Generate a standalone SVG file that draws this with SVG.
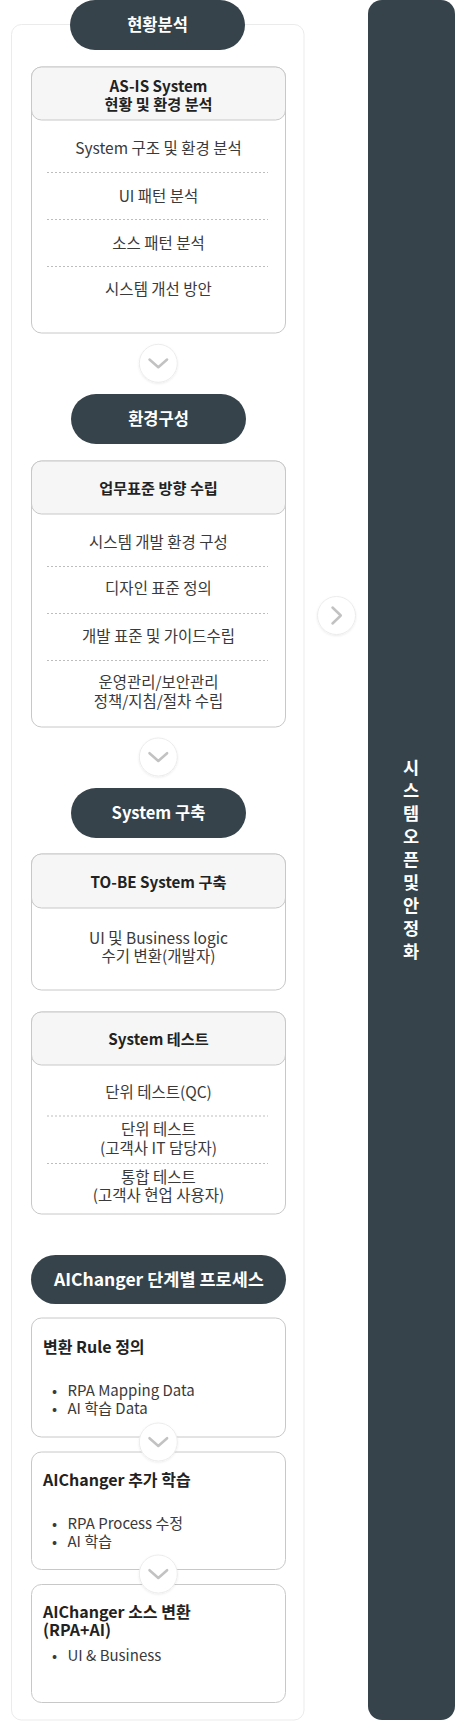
<svg xmlns="http://www.w3.org/2000/svg" width="473" height="1735" viewBox="0 0 473 1735">
<defs>
<style>
text{font-family:"Noto Sans CJK KR","Noto Sans",sans-serif;}
.pill{fill:#36434b;}
.pt{fill:#ffffff;font-size:16.5px;font-weight:700;text-anchor:middle;}
.card{fill:#ffffff;stroke:#c8c8c8;stroke-width:1;}
.hdr{fill:#f6f6f6;stroke:#c8c8c8;stroke-width:1;}
.ht{fill:#222;font-size:15.2px;font-weight:700;text-anchor:middle;}
.it{fill:#3a3a3a;font-size:15.5px;text-anchor:middle;}
.tt{fill:#222;font-size:16px;font-weight:700;}
.bt{fill:#3a3a3a;font-size:15px;}
.dot{stroke:#bdbdbd;stroke-width:1;stroke-dasharray:2 2;}
.circ{fill:#ffffff;stroke:#ececec;stroke-width:1;}
.chev{fill:none;stroke:#c2c2c2;stroke-width:2.5;stroke-linecap:round;stroke-linejoin:round;}
.vt{fill:#ffffff;font-size:17.5px;font-weight:700;letter-spacing:5.5px;}
</style>
<filter id="sh" x="-30%" y="-30%" width="160%" height="160%">
<feDropShadow dx="0" dy="1" stdDeviation="1" flood-color="#000" flood-opacity="0.08"/>
</filter>
</defs>
<rect x="0" y="0" width="473" height="1735" fill="#ffffff"/>

<g id="container">
<rect x="11.5" y="24.5" width="292.5" height="1695.5" rx="10" fill="#ffffff" stroke="#ebebeb" stroke-width="1"/>
</g>

<g id="panel-open">
<rect x="368" y="0" width="87" height="1720" rx="14" fill="#36434b"/>
<text class="vt" x="411" y="759" writing-mode="vertical-rl">시스템오픈및안정화</text>
</g>

<g id="pill-1">
<rect class="pill" x="70" y="0" width="175" height="50" rx="25"/>
<text class="pt" x="157.5" y="31">현황분석</text>
</g>

<g id="card-asis">
<rect class="card" x="31.5" y="67" width="254" height="266" rx="10"/>
<rect class="hdr" x="31.5" y="67" width="254" height="53" rx="10"/>
<text class="ht"><tspan x="158.5" y="91.5">AS-IS System</tspan><tspan x="158.5" y="109.5">현황 및 환경 분석</tspan></text>
<text class="it" x="158.5" y="153.5">System 구조 및 환경 분석</text>
<text class="it" x="158.5" y="201.5">UI 패턴 분석</text>
<text class="it" x="158.5" y="248.5">소스 패턴 분석</text>
<text class="it" x="158.5" y="294.5">시스템 개선 방안</text>
<line class="dot" x1="47" y1="172.5" x2="268" y2="172.5"/>
<line class="dot" x1="47" y1="219.5" x2="268" y2="219.5"/>
<line class="dot" x1="47" y1="266.5" x2="268" y2="266.5"/>
</g>

<g id="pill-2">
<rect class="pill" x="71" y="394" width="175" height="50" rx="25"/>
<text class="pt" x="158.5" y="425">환경구성</text>
</g>

<g id="card-env">
<rect class="card" x="31.5" y="461" width="254" height="266" rx="10"/>
<rect class="hdr" x="31.5" y="461" width="254" height="53" rx="10"/>
<text class="ht" x="158.5" y="493.5">업무표준 방향 수립</text>
<text class="it" x="158.5" y="547.5">시스템 개발 환경 구성</text>
<text class="it" x="158.5" y="593.5">디자인 표준 정의</text>
<text class="it" x="158.5" y="641.5">개발 표준 및 가이드수립</text>
<text class="it"><tspan x="158.5" y="688">운영관리/보안관리</tspan><tspan x="158.5" y="706.5">정책/지침/절차 수립</tspan></text>
<line class="dot" x1="47" y1="566.5" x2="268" y2="566.5"/>
<line class="dot" x1="47" y1="613.5" x2="268" y2="613.5"/>
<line class="dot" x1="47" y1="660.5" x2="268" y2="660.5"/>
</g>

<g id="pill-3">
<rect class="pill" x="71" y="788" width="175" height="50" rx="25"/>
<text class="pt" x="158.5" y="819">System 구축</text>
</g>

<g id="card-tobe">
<rect class="card" x="31.5" y="854" width="254" height="136" rx="10"/>
<rect class="hdr" x="31.5" y="854" width="254" height="54" rx="10"/>
<text class="ht" x="158.5" y="887.5">TO-BE System 구축</text>
<text class="it"><tspan x="158.5" y="943.5">UI 및 Business logic</tspan><tspan x="158.5" y="961.5">수기 변환(개발자)</tspan></text>
</g>

<g id="card-test">
<rect class="card" x="31.5" y="1012" width="254" height="202" rx="10"/>
<rect class="hdr" x="31.5" y="1012" width="254" height="53" rx="10"/>
<text class="ht" x="158.5" y="1044.5">System 테스트</text>
<text class="it" x="158.5" y="1097.5">단위 테스트(QC)</text>
<text class="it"><tspan x="158.5" y="1135">단위 테스트</tspan><tspan x="158.5" y="1154">(고객사 IT 담당자)</tspan></text>
<text class="it"><tspan x="158.5" y="1182.5">통합 테스트</tspan><tspan x="158.5" y="1200.5">(고객사 현업 사용자)</tspan></text>
<line class="dot" x1="47" y1="1116" x2="268" y2="1116"/>
<line class="dot" x1="47" y1="1163.5" x2="268" y2="1163.5"/>
</g>

<g id="pill-4">
<rect class="pill" x="31" y="1255" width="255" height="49" rx="24.5"/>
<text class="pt" x="159" y="1285.5" style="font-size:17.5px">AIChanger 단계별 프로세스</text>
</g>

<g id="card-rule">
<rect class="card" x="31.5" y="1318" width="254" height="119" rx="10"/>
<text class="tt" x="43" y="1352.5">변환 Rule 정의</text>
<text class="bt"><tspan x="52" y="1396">•</tspan><tspan x="67.5" y="1396">RPA Mapping Data</tspan><tspan x="52" y="1414">•</tspan><tspan x="67.5" y="1414">AI 학습 Data</tspan></text>
</g>

<g id="card-learn">
<rect class="card" x="31.5" y="1452" width="254" height="117.5" rx="10"/>
<text class="tt" x="43" y="1485.5">AIChanger 추가 학습</text>
<text class="bt"><tspan x="52" y="1529">•</tspan><tspan x="67.5" y="1529">RPA Process 수정</tspan><tspan x="52" y="1547">•</tspan><tspan x="67.5" y="1547">AI 학습</tspan></text>
</g>

<g id="card-convert">
<rect class="card" x="31.5" y="1584.5" width="254" height="118" rx="10"/>
<text class="tt"><tspan x="43" y="1617.5">AIChanger 소스 변환</tspan><tspan x="43" y="1636">(RPA+AI)</tspan></text>
<text class="bt"><tspan x="52" y="1661">•</tspan><tspan x="67.5" y="1661">UI &amp; Business</tspan></text>
</g>

<g id="connectors">
<g filter="url(#sh)">
<circle class="circ" cx="158.3" cy="363.3" r="19"/>
<circle class="circ" cx="158.3" cy="757" r="19"/>
<circle class="circ" cx="336.5" cy="615.5" r="19"/>
<circle class="circ" cx="158.3" cy="1442" r="19"/>
<circle class="circ" cx="158.3" cy="1574" r="19"/>
</g>
<path class="chev" d="M149.5 359.5 L158.3 367.3 L167.1 359.5"/>
<path class="chev" d="M149.5 753.2 L158.3 761 L167.1 753.2"/>
<path class="chev" d="M332.5 607.5 L340.8 615.5 L332.5 623.5"/>
<path class="chev" d="M149.5 1438.2 L158.3 1446 L167.1 1438.2"/>
<path class="chev" d="M149.5 1570.2 L158.3 1578 L167.1 1570.2"/>
</g>
</svg>
